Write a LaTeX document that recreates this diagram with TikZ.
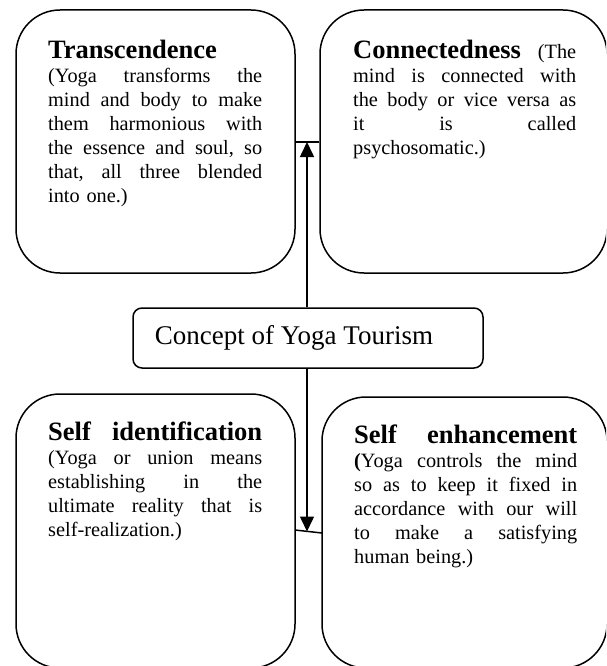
\documentclass[tikz,border=0pt]{standalone}
\usepackage{fontspec}
\setmainfont{Liberation Serif}
\usetikzlibrary{arrows.meta}
\newcommand\jla[1]{\leavevmode\hbox to 214pt{#1}}
\newcommand\jlb[1]{\leavevmode\hbox to 223pt{#1}}
\newcommand\hd{\bfseries\fontsize{26.5}{24}\selectfont}
\newcommand\bodyfont{\fontsize{20.3}{24}\selectfont}
\newcommand\firststrut{\rule{0pt}{20pt}}
\tikzset{
  bigbox/.style={draw, line width=1.5pt, rounded corners=44pt, rectangle, inner sep=0pt},
  centerbox/.style={draw, line width=1.5pt, rounded corners=9pt, rectangle, inner sep=0pt,
    minimum width=350pt, minimum height=60pt, font=\fontsize{27}{30}\selectfont},
  boxtext/.style={anchor=north west, inner sep=0pt, align=left, font=\bodyfont},
  conn/.style={line width=1.5pt},
  arr/.style={line width=1.5pt, -{Triangle[width=14pt,length=15pt]}}
}
\begin{document}
\begin{tikzpicture}[x=1pt,y=-1pt]
\useasboundingbox (0,0) rectangle (606,666);
\clip (0,0) rectangle (606,666);
\fill[white] (0,0) rectangle (606,666);

% boxes
\node[bigbox, minimum width=279pt, minimum height=263pt] (B1) at (155.5,141.5) {};
\node[bigbox, minimum width=287pt, minimum height=263pt] (B2) at (463.5,141.5) {};
\node[bigbox, minimum width=279pt, minimum height=274pt] (B3) at (155.5,531) {};
\node[bigbox, minimum width=285pt, minimum height=271pt] (B4) at (464.5,532.5) {};
\node[centerbox] (C) at (308,338) {Concept of Yoga Tourism\kern28pt\relax};

% texts
\node[boxtext, text width=214pt] (T1) at (48,38) {%
\firststrut{\hd Transcendence}\\
\jla{(Yoga\hfil{} transforms\hfil{} the}\\
\jla{mind\hfil{} and\hfil{} body\hfil{} to\hfil{} make}\\
\jla{them\hfil{} harmonious\hfil{} with}\\
\jla{the\hfil{} essence\hfil{} and\hfil{} soul,\hfil{} so}\\
\jla{that,\hfil{} all\hfil{} three\hfil{} blended}\\
into one.)};

\node[boxtext, text width=223pt] (T2) at (353,38) {%
\jlb{\firststrut{\hd Connectedness}\hfil{} (The}\\
\jlb{mind\hfil{} is\hfil{} connected\hfil{} with}\\
\jlb{the\hfil{} body\hfil{} or\hfil{} vice\hfil{} versa\hfil{} as}\\
\jlb{it\hfil{} is\hfil{} called}\\
psychosomatic.)};

\node[boxtext, text width=214pt] (T3) at (48,420) {%
\jla{\firststrut{\hd Self\hfil{} identification}}\\
\jla{(Yoga\hfil{} or\hfil{} union\hfil{} means}\\
\jla{establishing\hfil{} in\hfil{} the}\\
\jla{ultimate\hfil{} reality\hfil{} that\hfil{} is}\\
self-realization.)};

\node[boxtext, text width=223pt] (T4) at (354,423) {%
\jlb{\firststrut{\hd Self\hfil{} enhancement}}\\
\jlb{\textbf{(}Yoga\hfil{} controls\hfil{} the\hfil{} mind}\\
\jlb{so\hfil{} as\hfil{} to\hfil{} keep\hfil{} it\hfil{} fixed\hfil{} in}\\
\jlb{accordance\hfil{} with\hfil{} our\hfil{} will}\\
\jlb{to\hfil{} make\hfil{} a\hfil{} satisfying}\\
human being.)};

% connectors
\coordinate (J1) at (307,142);
\coordinate (J2) at (307,531.5);
\coordinate (BL) at (295,530);
\coordinate (BR) at (322,533);
\draw[conn] (B1.east |- J1) -- (B2.west |- J1);
\draw[conn] (BL) -- (BR);
\draw[arr] (C.north -| J1) -- (J1);
\draw[arr] (C.south -| J2) -- (J2);
\end{tikzpicture}
\end{document}
